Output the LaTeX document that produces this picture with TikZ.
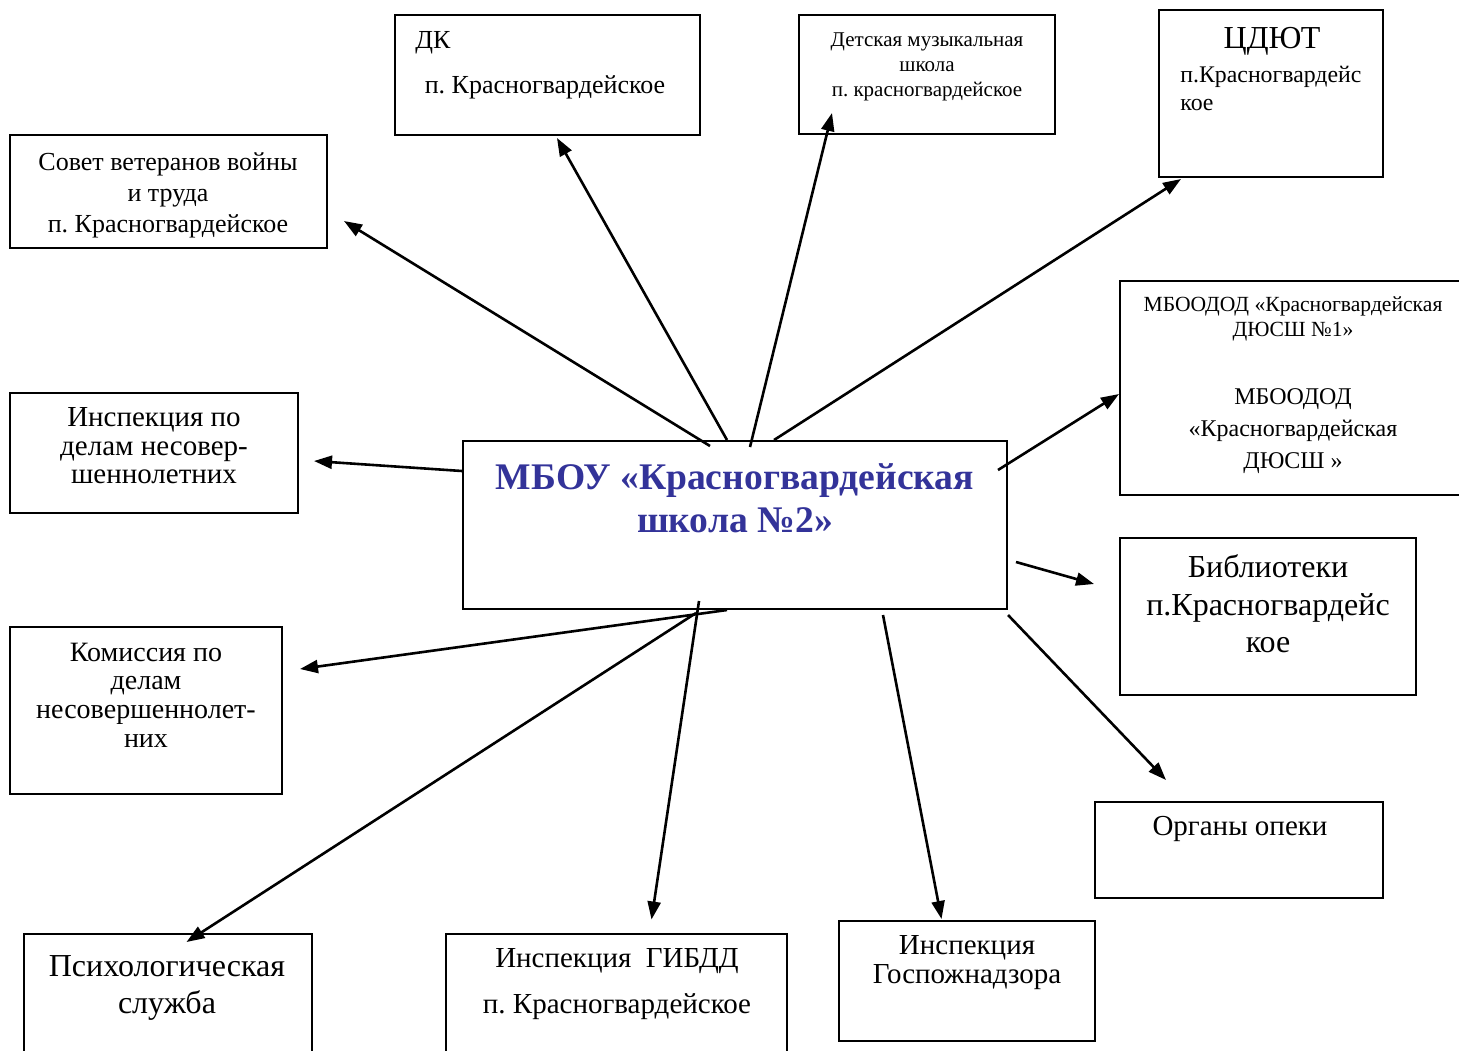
\documentclass[tikz,border=0pt]{standalone}
\usepackage{fontspec}
\setmainfont{Liberation Serif}
\usetikzlibrary{arrows.meta, calc, fit}
\definecolor{schoolblue}{RGB}{51,51,153}
\frenchspacing

\begin{document}
\begin{tikzpicture}[
    x=0.5pt, y=-0.5pt,
    org box/.style={
        draw,
        line width=1pt,
        inner sep=0pt,
    },
    box text/.style={
        align=center,
        inner sep=0pt,
    },
    link/.style={
        line width=1.3pt,
        -{Triangle[length=9pt, width=6.5pt]},
    }
]
\useasboundingbox (0,0) rectangle (1459,1050);
\clip (0,0) rectangle (1459,1050);

% boxes
\node[org box, fit={(463,441) (1007,609)}] (school) {};
\node[org box, fit={(395,15) (700,135)}] (dk) {};
\node[org box, fit={(10,135) (327,248)}] (veterans) {};
\node[org box, fit={(799,15) (1055,134)}] (music) {};
\node[org box, fit={(1159,10) (1383,177)}] (cdyut) {};
\node[org box, fit={(1120,281) (1475,495)}] (sport) {};
\node[org box, fit={(10,393) (298,513)}] (minors) {};
\node[org box, fit={(1120,538) (1416,695)}] (library) {};
\node[org box, fit={(10,627) (282,794)}] (commission) {};
\node[org box, fit={(1095,802) (1383,898)}] (guardianship) {};
\node[org box, fit={(24,934) (312,1065)}] (psych) {};
\node[org box, fit={(446,934) (787,1065)}] (traffic) {};
\node[org box, fit={(839,921) (1095,1041)}] (fire) {};

% texts
\node[box text, font=\fontsize{18.8}{21.5}\selectfont\bfseries, text=schoolblue] (school text) at (735,498) {МБОУ «Красногвардейская\\школа №2»};
\node[box text, font=\fontsize{13}{15.5}\selectfont] (dk title) at (433,43) {ДК};
\node[box text, font=\fontsize{13}{15.5}\selectfont] (dk place) at (545,87) {п. Красногвардейское};
\node[box text, font=\fontsize{13}{15.5}\selectfont] (veterans text) at (168,195) {Совет ветеранов войны\\и труда\\п. Красногвардейское};
\node[box text, font=\fontsize{10.5}{12.5}\selectfont] (music text) at (927,67) {Детская музыкальная\\школа\\п. красногвардейское};
\node[box text, font=\fontsize{16}{18}\selectfont] (cdyut title) at (1272,41) {ЦДЮТ};
\node[box text, align=left, anchor=west, font=\fontsize{11.9}{14}\selectfont] (cdyut place) at (1180,88) {п.Красногвардейс\\кое};
\node[box text, font=\fontsize{10.8}{12.5}\selectfont] (sport text a) at (1293,319) {МБООДОД «Красногвардейская\\ДЮСШ №1»};
\node[box text, font=\fontsize{12}{16}\selectfont] (sport text b) at (1293,431) {МБООДОД\\«Красногвардейская\\ДЮСШ »};
\node[box text, font=\fontsize{14.5}{14.3}\selectfont] (minors text) at (154,446) {Инспекция по\\делам несовер-\\шеннолетних};
\node[box text, font=\fontsize{16}{18.7}\selectfont] (library text) at (1268,604) {Библиотеки\\п.Красногвардейс\\кое};
\node[box text, font=\fontsize{14}{14.3}\selectfont] (commission text) at (146,695) {Комиссия по\\делам\\несовершеннолет-\\них};
\node[box text, font=\fontsize{14.5}{15}\selectfont] (guardianship text) at (1240,829) {Органы опеки};
\node[box text, font=\fontsize{16}{18.5}\selectfont] (psych text) at (167,988) {Психологическая\\служба};
\node[box text, font=\fontsize{14.5}{23}\selectfont] (traffic text) at (617,984) {Инспекция\ \ ГИБДД\\п. Красногвардейское};
\node[box text, font=\fontsize{14.5}{14.5}\selectfont] (fire text) at (967,963) {Инспекция\\Госпожнадзора};

% links
\draw[link] ($(school.north west)+(248,6)$) -- ($(veterans.south east)+(16,-28)$);
\draw[link] ($(school.north west)+(265,0)$) -- ($(dk.south west)+(163,2)$);
\draw[link] ($(school.north west)+(288,7)$) -- ($(music.south west)+(34,-22)$);
\draw[link] ($(school.north west)+(312,0)$) -- ($(cdyut.south west)+(23,1)$);
\draw[link] ($(school.north east)+(-10,30)$) -- ($(sport.west)+(0,6)$);
\draw[link] ($(school.south east)+(8,-48)$) -- ($(library.north west)+(-25,47)$);
\draw[link] ($(school.south east)+(0,5)$) -- ($(guardianship.north west)+(72,-21)$);
\draw[link] ($(school.south west)+(421,5)$) -- ($(fire.north west)+(103.5,-1)$);
\draw[link] ($(school.south west)+(237,-9)$) -- ($(traffic.north west)+(206.5,-13.5)$);
\draw[link] ($(school.south west)+(234,3)$) -- ($(psych.north west)+(163.5,9)$);
\draw[link] ($(school.south west)+(265,0)$) -- ($(commission.north east)+(17,43)$);
\draw[link] ($(school.north west)+(0,31)$) -- ($(minors.north east)+(15,69)$);
\end{tikzpicture}
\end{document}
